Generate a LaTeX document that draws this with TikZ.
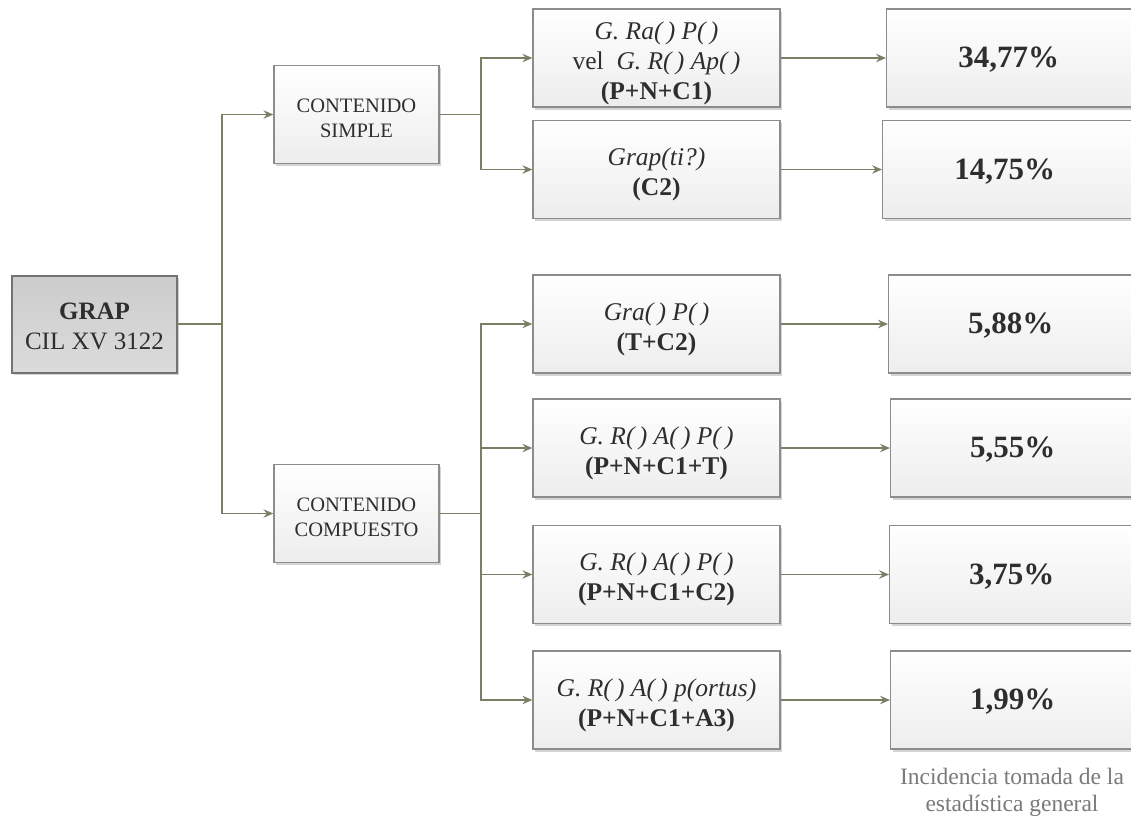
\documentclass[tikz,border=0pt]{standalone}
\usepackage{fontspec}
\setmainfont{Liberation Serif}
\usetikzlibrary{arrows.meta,shadows}
\definecolor{boxline}{HTML}{8C8C8C}
\definecolor{conn}{HTML}{7E7E66}
\definecolor{txt}{HTML}{2E2E2E}
\newcommand{\bt}[2][-5pt]{\raisebox{#1}[\height][\depth]{\begin{tabular}{@{}c@{}}#2\end{tabular}}}
\tikzset{
  box/.style={draw=boxline, line width=1.3pt, top color=white, bottom color=black!7,
    text=txt, align=center, inner sep=0pt,
    drop shadow={shadow xshift=2pt, shadow yshift=-2.5pt, opacity=0.28, fill=black!60}},
  midbox/.style={box, minimum width=247pt, minimum height=98pt,
    font=\fontsize{25.5}{30}\selectfont},
  resbox/.style={box, anchor=west, minimum width=262pt, minimum height=98pt,
    font=\fontsize{31}{34}\selectfont\bfseries},
  catbox/.style={box, minimum width=165pt, minimum height=98pt,
    font=\fontsize{20.5}{25}\selectfont},
  arr/.style={draw=conn, line width=1.2pt, -{Stealth[length=10pt,width=8.5pt,inset=3.5pt]}},
  trunk/.style={draw=conn, line width=1.2pt},
}
\begin{document}
\begin{tikzpicture}[x=1pt,y=-1pt]
\useasboundingbox (0,0) rectangle (1131,820);
\clip (0,0) rectangle (1131,820);
\fill[white] (0,0) rectangle (1131,820);

\node[box, draw=black!55, line width=2pt, top color=black!20, bottom color=black!14,
  minimum width=165pt, minimum height=97pt, font=\fontsize{25}{30}\selectfont]
  (grap) at (94.5,324) {\bt[-4pt]{\textbf{GRAP}\\CIL XV 3122}};

\node[catbox] (cs) at (356.5,114.5) {\bt{CONTENIDO\\SIMPLE}};
\node[catbox] (cc) at (356.5,513.5) {\bt{CONTENIDO\\COMPUESTO}};

\node[midbox] (m1) at (656.5,58) {\bt{\textit{G. Ra(\,) P(\,)}\\vel\ \ \textit{G. R(\,) Ap(\,)}\\\textbf{(P+N+C1)}}};
\node[midbox] (m2) at (656.5,169.5) {\bt{\textit{Grap(ti?)}\\\textbf{(C2)}}};
\node[midbox] (m3) at (656.5,324) {\bt{\textit{Gra(\,) P(\,)}\\\textbf{(T+C2)}}};
\node[midbox] (m4) at (656.5,448) {\bt{\textit{G. R(\,) A(\,) P(\,)}\\\textbf{(P+N+C1+T)}}};
\node[midbox] (m5) at (656.5,574.5) {\bt{\textit{G. R(\,) A(\,) P(\,)}\\\textbf{(P+N+C1+C2)}}};
\node[midbox] (m6) at (656.5,700) {\bt{\textit{G. R(\,) A(\,) p(ortus)}\\\textbf{(P+N+C1+A3)}}};

\node[resbox] (r1) at (886,58) {\bt[-3pt]{\hspace*{-18pt}34,77\%}};
\node[resbox] (r2) at (882,169.5) {\bt[-3pt]{\hspace*{-18pt}14,75\%}};
\node[resbox] (r3) at (888,324) {\bt[-3pt]{\hspace*{-18pt}5,88\%}};
\node[resbox] (r4) at (890,448) {\bt[-3pt]{\hspace*{-18pt}5,55\%}};
\node[resbox] (r5) at (889,574.5) {\bt[-3pt]{\hspace*{-18pt}3,75\%}};
\node[resbox] (r6) at (890,700) {\bt[-3pt]{\hspace*{-18pt}1,99\%}};

\node[text=black!52, align=center, font=\fontsize{23.5}{27}\selectfont] (note) at (1012,792)
  {Incidencia tomada de la\\estadística general};

% connectors
\coordinate (j0) at (222,324);
\coordinate (j1) at (481,114.5);
\coordinate (j2) at (481,513.5);
\draw[trunk] (grap.east) -- (j0);
\draw[arr] (j0) |- (cs.west);
\draw[arr] (j0) |- (cc.west);
\draw[trunk] (cs.east) -- (j1);
\draw[arr] (j1) |- (m1.west);
\draw[arr] (j1) |- (m2.west);
\draw[trunk] (cc.east) -- (j2);
\draw[arr] (j2) |- (m3.west);
\draw[arr] (j2) |- (m4.west);
\draw[arr] (j2) |- (m5.west);
\draw[arr] (j2) |- (m6.west);
\draw[arr] (m1.east) -- (r1.west);
\draw[arr] (m2.east) -- (r2.west);
\draw[arr] (m3.east) -- (r3.west);
\draw[arr] (m4.east) -- (r4.west);
\draw[arr] (m5.east) -- (r5.west);
\draw[arr] (m6.east) -- (r6.west);
\end{tikzpicture}
\end{document}
